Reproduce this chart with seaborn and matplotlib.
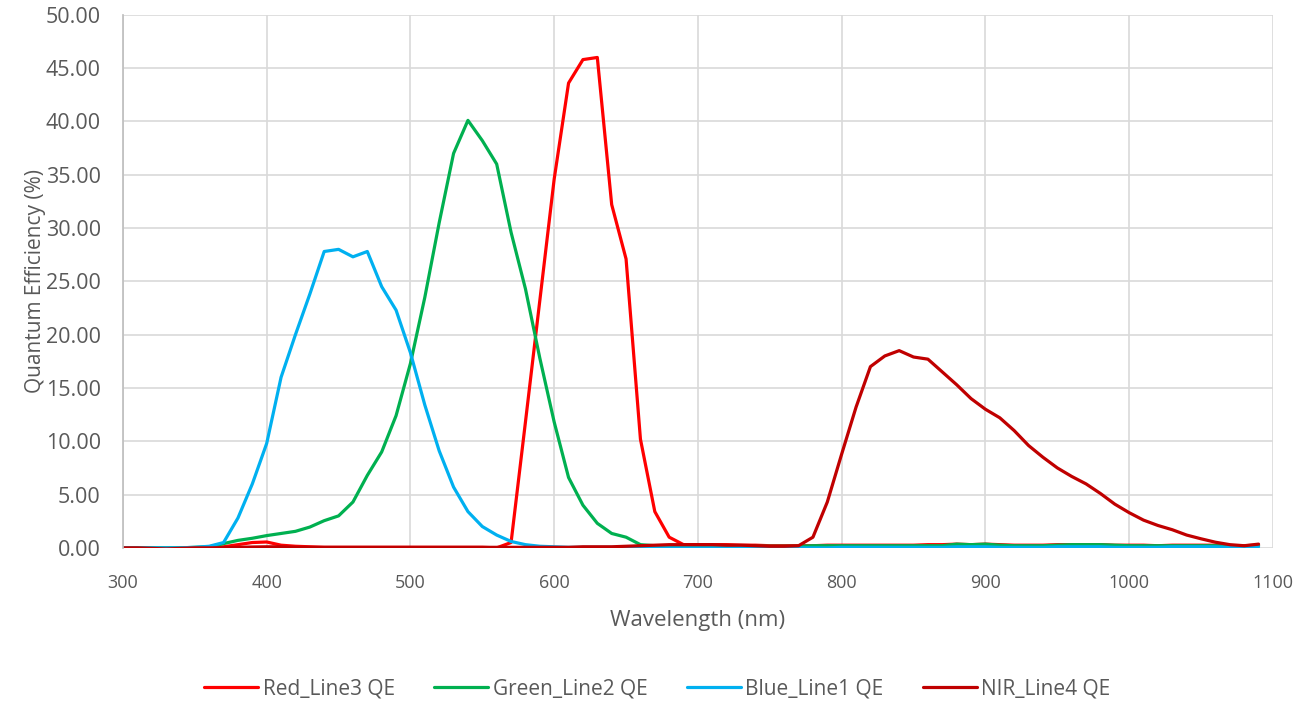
import numpy as np
import pandas as pd
import matplotlib
matplotlib.use('Agg')
import matplotlib.pyplot as plt
import seaborn as sns

# wavelengths (nm), 300..1090 in 10 nm steps
wavelength = list(range(300, 1100, 10))

red_qe = [0, 0, 0, 0, 0, 0, 0.05, 0.1, 0.3, 0.5,
          0.55, 0.25, 0.15, 0.1, 0.05, 0.05, 0.05, 0.05, 0.05, 0.05,
          0.05, 0.05, 0.05, 0.05, 0.05, 0.05, 0.0, 0.5, 11.8, 23.2,
          34.6, 43.6, 45.8, 46.0, 32.2, 27.1, 10.2, 3.4, 1.0, 0.3,
          0.3, 0.3, 0.3, 0.25, 0.25, 0.2, 0.2, 0.2, 0.2, 0.25,
          0.25, 0.25, 0.25, 0.25, 0.25, 0.25, 0.3, 0.3, 0.35, 0.3,
          0.35, 0.3, 0.25, 0.25, 0.25, 0.3, 0.3, 0.3, 0.3, 0.25,
          0.25, 0.25, 0.2, 0.25, 0.25, 0.25, 0.25, 0.2, 0.2, 0.25]

green_qe = [0, 0, 0, 0, 0, 0.05, 0.1, 0.4, 0.7, 0.9,
            1.15, 1.35, 1.55, 1.95, 2.55, 3.0, 4.3, 6.8, 9.0, 12.4,
            17.3, 23.5, 30.5, 37.0, 40.1, 38.2, 36.0, 29.6, 24.3, 17.8,
            11.8, 6.6, 4.0, 2.3, 1.35, 1.0, 0.3, 0.2, 0.2, 0.2,
            0.2, 0.2, 0.2, 0.2, 0.15, 0.15, 0.15, 0.15, 0.2, 0.2,
            0.2, 0.2, 0.2, 0.2, 0.2, 0.2, 0.2, 0.2, 0.35, 0.3,
            0.35, 0.25, 0.2, 0.2, 0.2, 0.25, 0.3, 0.3, 0.3, 0.25,
            0.2, 0.2, 0.2, 0.2, 0.2, 0.2, 0.2, 0.15, 0.15, 0.2]

blue_qe = [0, 0, 0, 0, 0, 0.05, 0.15, 0.5, 2.8, 6.0,
           9.8, 16.0, 20.0, 23.8, 27.8, 28.0, 27.3, 27.8, 24.5, 22.3,
           18.3, 13.4, 9.1, 5.7, 3.4, 2.0, 1.2, 0.6, 0.3, 0.15,
           0.1, 0.05, 0.05, 0.05, 0.05, 0.05, 0.05, 0.0, 0.0, 0.0,
           0.0, 0.0, 0.0, 0.0, 0.0, 0.0, 0.0, 0.0, 0.0, 0.0,
           0.05, 0.05, 0.05, 0.05, 0.05, 0.05, 0.05, 0.05, 0.1, 0.1,
           0.1, 0.05, 0.05, 0.05, 0.05, 0.1, 0.1, 0.1, 0.1, 0.05,
           0.05, 0.05, 0.05, 0.1, 0.1, 0.1, 0.1, 0.05, 0.05, 0.1]

nir_qe = [0, 0, -0.05, -0.1, -0.05, 0, 0, 0.02, 0.05, 0.08,
          0.1, 0.1, 0.05, 0.05, 0.05, 0.05, 0.05, 0.05, 0.05, 0.05,
          0.05, 0.05, 0.05, 0.05, 0.05, 0.05, 0.05, 0.05, 0.05, 0.05,
          0.05, 0.05, 0.1, 0.1, 0.1, 0.15, 0.2, 0.25, 0.3, 0.3,
          0.3, 0.3, 0.25, 0.25, 0.2, 0.15, 0.15, 0.2, 1.0, 4.3,
          8.8, 13.2, 17.0, 18.0, 18.5, 17.9, 17.7, 16.5, 15.3, 14.0,
          13.0, 12.2, 11.0, 9.6, 8.5, 7.5, 6.7, 6.0, 5.1, 4.1,
          3.3, 2.6, 2.1, 1.7, 1.2, 0.85, 0.53, 0.3, 0.2, 0.35]

series_names = ['Red_Line3 QE', 'Green_Line2 QE', 'Blue_Line1 QE', 'NIR_Line4 QE']
series_colors = ['#FF0000', '#00B050', '#00B0F0', '#C00000']

df = pd.DataFrame({
    'Wavelength': wavelength * 4,
    'QE': red_qe + green_qe + blue_qe + nir_qe,
    'Series': [n for n in series_names for _ in wavelength],
})

sns.set_theme(style='white')
plt.rcParams['font.family'] = ['Open Sans', 'DejaVu Sans']

fig = plt.figure(figsize=(13.15, 7.06), dpi=100)
ax = fig.add_axes([0.0935, 0.224, 0.8745, 0.755])

sns.lineplot(data=df, x='Wavelength', y='QE', hue='Series',
             palette=dict(zip(series_names, series_colors)),
             hue_order=series_names, linewidth=2.3, ax=ax)

ax.set_xlim(300, 1100)
ax.set_ylim(0, 50)
ax.set_xticks(range(300, 1101, 100))
ax.set_yticks(np.arange(0, 50.1, 5))
ax.set_yticklabels([f'{v:.2f}' for v in np.arange(0, 50.1, 5)])
ax.grid(True, color='#D9D9D9', linewidth=1.2)
ax.set_axisbelow(True)
for s in ['top', 'right', 'bottom']:
    ax.spines[s].set_visible(False)
ax.spines['left'].set_color('#BFBFBF')
ax.tick_params(axis='both', length=0, colors='#595959')
ax.tick_params(axis='x', pad=19, labelsize=13)
ax.tick_params(axis='y', pad=16, labelsize=15.5)
ax.set_xlabel('Wavelength (nm)', fontsize=16, color='#595959', labelpad=13)
ax.set_ylabel('Quantum Efficiency (%)', fontsize=15, color='#595959', labelpad=0)

handles, labels = ax.get_legend_handles_labels()
ax.get_legend().remove()
fig.legend(handles, labels, loc='center', bbox_to_anchor=(0.5, 0.024),
           ncol=4, frameon=False, fontsize=15, labelcolor='#595959',
           handlelength=2.6, columnspacing=1.9, handletextpad=0.2)

fig.savefig('out.png', dpi=100)
